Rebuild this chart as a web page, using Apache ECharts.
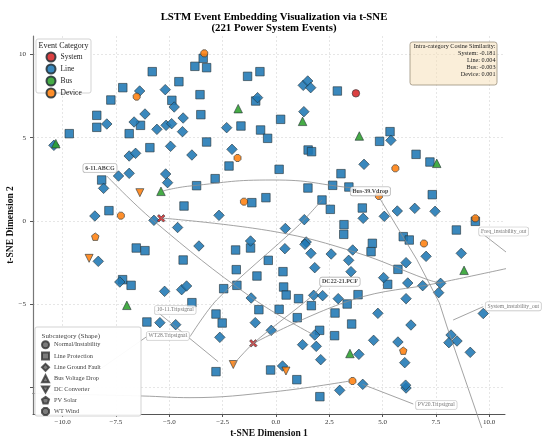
<!DOCTYPE html>
<html>
<head>
<meta charset="utf-8">
<script src="https://cdn.jsdelivr.net/npm/echarts@6.0.0/dist/echarts.min.js"></script>
<style>
  html, body { margin: 0; padding: 0; background: #fff; }
  #main { width: 550px; height: 441px; }
</style>
</head>
<body>
<div id="main"></div>
<script>
// t-SNE scatter of LSTM event embeddings
const FONT = '"Liberation Serif", "Times New Roman", serif';

// --- data ---
const xTicks = [-10, -7.5, -5, -2.5, 0, 2.5, 5, 7.5, 10];
const yTicks = [-10, -5, 0, 5, 10];
const yLabelTicks = [-5, 0, 5, 10];

const categories = ['System', 'Line', 'Bus', 'Device'];
const subcategories = ['Normal/Instability', 'Line Protection', 'Line Ground Fault',
  'Bus Voltage Drop', 'DC Converter', 'PV Solar', 'WT Wind'];

const lineProtection = [
  [-5.80, 8.96], [-4.55, 8.36], [-7.18, 8.00], [-7.74, 7.26], [-8.40, 6.34], [-8.40, 5.62],
  [-9.69, 5.24], [-6.88, 5.24], [-6.35, 5.74], [-4.88, 7.24], [-5.91, 4.40], [-8.17, 2.46],
  [-7.83, 0.62], [-4.31, 0.90], [-3.41, 9.76], [-3.80, 9.28], [-3.25, 9.20], [-1.33, 8.68],
  [-0.75, 8.96], [-3.56, 7.58], [-3.52, 6.38], [-0.95, 7.20], [-1.64, 5.70], [-0.72, 5.46],
  [-0.39, 4.96], [0.22, 6.10], [2.88, 7.80], [-3.25, 4.74], [-2.20, 3.30], [0.15, 3.10],
  [1.51, 4.26], [1.67, 4.16], [3.05, 2.84], [-2.85, 2.54], [-3.72, 2.12], [1.50, 1.98],
  [2.66, 2.14], [3.42, 2.04], [-0.47, 1.40], [-1.13, 1.10], [2.55, 0.70], [2.16, 1.26],
  [3.19, -0.22], [5.35, 5.36], [4.86, 4.78], [6.57, 4.00], [7.22, 3.54], [7.33, 1.58],
  [4.05, 0.78], [9.35, -0.02], [-6.55, -1.62], [-6.14, -1.78], [-4.35, -2.34], [-7.19, -3.52],
  [-6.79, -3.86], [-6.05, -6.06], [3.18, -0.80], [-1.89, -1.74], [-1.19, -1.62], [-0.36, -2.36],
  [-1.86, -2.92], [-0.89, -3.30], [0.33, -3.04], [-2.45, -4.06], [-1.83, -3.86], [0.36, -3.96],
  [0.48, -4.44], [1.06, -4.66], [1.66, -5.08], [-0.80, -5.32], [0.15, -5.30], [-2.81, -5.58],
  [-2.52, -6.12], [1.00, -5.80], [2.77, -5.52], [3.34, -4.98], [2.05, -6.56], [2.75, -6.88],
  [-2.81, -9.04], [-0.25, -8.94], [0.98, -9.52], [2.06, -10.54], [8.46, -0.54], [4.52, -1.34],
  [4.46, -1.84], [5.97, -0.94], [6.25, -1.14], [5.72, -2.90], [5.24, -3.80], [3.85, -4.42],
  [3.55, -6.18], [-3.94, -4.90]
];

const lineGroundFault = [
  [-6.39, 7.80], [-5.19, 7.88], [-4.77, 6.84], [-6.14, 6.42], [-7.93, 5.82], [-6.65, 5.94],
  [-5.58, 5.50], [-5.15, 5.74], [-4.89, 5.84], [-4.35, 6.18], [-4.38, 5.36], [-10.41, 4.54],
  [-4.94, 4.48], [-6.88, 3.90], [-6.58, 4.06], [-3.94, 3.96], [-7.38, 2.70], [-6.88, 2.86],
  [-5.17, 2.82], [-5.08, 2.30], [-8.08, 1.96], [-8.49, 0.30], [-5.72, 0.04], [-4.61, -0.39],
  [-0.86, 7.40], [1.28, 8.14], [1.49, 8.40], [1.63, 8.00], [1.31, 6.56], [-2.31, 5.60],
  [-2.06, 4.30], [-2.67, 0.34], [1.33, 0.08], [0.44, -0.45], [5.39, 4.84], [4.13, 3.40],
  [4.09, 0.16], [5.08, 0.28], [5.69, 0.60], [6.51, 0.76], [7.46, 0.58], [-8.33, -2.42],
  [-7.32, -3.66], [-5.22, -4.22], [-4.42, -4.12], [-4.19, -3.90], [-5.44, -6.10], [-4.70, -6.22],
  [-3.61, -1.50], [-1.19, -1.20], [0.42, -1.66], [1.42, -1.26], [1.36, -1.40], [1.64, -1.94],
  [2.59, -1.98], [3.41, -2.36], [1.82, -2.80], [-1.16, -4.62], [-0.97, -6.10], [-0.22, -6.56],
  [-2.63, -6.98], [1.77, -4.46], [2.19, -4.48], [2.92, -4.66], [1.82, -6.84], [1.25, -7.42],
  [1.89, -7.52], [2.10, -8.32], [0.31, -8.70], [2.99, -10.16], [3.60, -1.74], [3.52, -3.04],
  [7.04, -2.12], [8.69, -1.94], [6.10, -2.50], [5.05, -3.40], [6.18, -3.72], [6.88, -3.88],
  [7.72, -3.74], [7.63, -4.30], [6.10, -4.66], [4.78, -5.54], [6.33, -6.24], [4.58, -7.16],
  [5.72, -7.26], [8.21, -6.84], [8.11, -7.30], [8.49, -7.20], [9.11, -7.88], [3.89, -8.00],
  [6.04, -8.50], [4.07, -9.80], [6.10, -10.02], [6.08, -9.85], [9.72, -5.55]
];

const busVoltageDrop = [
  [-10.32, 4.64], [-5.39, 1.78], [-1.77, 6.74], [1.25, 5.98], [3.91, 5.10], [7.54, 3.46],
  [8.82, -2.96], [-6.99, -5.06], [3.47, -7.95]
];
const systemNormal = [[3.75, 7.66]];
const systemInstability = [[-5.38, 0.16], [-1.06, -7.34]];
const deviceWind = [
  [-3.36, 10.06], [-6.53, 7.46], [-7.27, 0.32], [-1.80, 3.78], [-1.50, 1.16], [5.60, 3.16],
  [4.83, 1.50], [9.35, 0.16], [6.94, -1.35], [3.59, -9.60]
];
const devicePV = [[-8.47, -0.94], [5.97, -7.78]];
const deviceDC = [[-6.38, 1.70], [-8.76, -2.24], [-2.00, -8.61], [0.47, -9.00]];

const similarity = ['System: -0.181', 'Line: 0.004', 'Bus: -0.003', 'Device: 0.001'];

// annotation labels and their connector paths
const annotNames = ['6-11.ABCG', 'Bus-39.Vdrop', 'DC22-21.PCF', '10-11.Tripsignal',
  'WT28.Tripsignal', 'PV20.Tripsignal', 'Freq_instability_out', 'System_instability_out'];
const annotPos = [[-8.25, 3.18], [4.43, 1.78], [3.00, -3.64], [-4.72, -5.34],
  [-5.07, -6.90], [7.52, -11.04], [10.68, -0.63], [11.13, -5.12]];
const annotBold = [true, true, true, false, false, false, false, false];

const connectors = [
  { smooth: 0.4, pts: [[-7.93, 2.70], [-5.74, 0.02], [-1.14, -4.60], [1.78, -6.84]] },
  { smooth: 0.5, pts: [[3.80, 1.92], [3.47, 2.00], [-0.14, 2.46], [-4.03, 2.10], [-5.30, 1.80]] },
  { smooth: 0.4, pts: [[-5.39, 0.18], [-0.05, -0.64], [3.79, -1.90], [7.07, -3.50], [7.74, -3.74]] },
  { smooth: 0, pts: [[4.83, 1.44], [6.60, -2.30], [7.66, -4.90], [8.01, -6.30], [9.65, -12.42]] },
  { smooth: 0, pts: [[-5.67, -5.34], [-2.71, -8.44]] },
  { smooth: 0, pts: [[-6.06, -6.94], [-8.41, -9.04]] },
  { smooth: 0.3, pts: [[-4.03, -6.94], [-2.78, -4.74], [1.03, -0.30], [2.16, 1.26]] },
  { smooth: 0.3, pts: [[-2.00, -8.61], [-1.06, -7.34], [1.75, -4.44], [2.20, -3.78]] },
  { smooth: 0.4, pts: [[-1.06, -7.34], [3.55, -4.74], [7.69, -3.70], [12.29, -2.44]] },
  { smooth: 0, pts: [[9.56, -0.64], [11.67, -2.74]] },
  { smooth: 0.4, pts: [[-12.5, -10.32], [-6.24, -10.50], [-4.03, -10.60], [-0.05, -10.24], [3.47, -9.60]] },
  { smooth: 0, pts: [[4.06, -9.80], [6.44, -10.98]] },
  { smooth: 0, pts: [[8.31, -5.94], [9.72, -5.14]] }
];

// --- styles ---
const COLORS = { System: '#d62728', Line: '#1f77b4', Bus: '#2ca02c', Device: '#ff7f0e' };
const PENTAGON = 'path://M0,-10L9.51,-3.09L5.88,8.09L-5.88,8.09L-9.51,-3.09Z';
const OCTAGON = 'path://M-4.14,-10L4.14,-10L10,-4.14L10,4.14L4.14,10L-4.14,10L-10,4.14L-10,-4.14Z';
const XMARK = 'path://M-10,-6L-6,-10L0,-4L6,-10L10,-6L4,0L10,6L6,10L0,4L-6,10L-10,6L-4,0Z';
const TRI_DOWN = 'path://M-10,-8.66L10,-8.66L0,8.66Z';
const shapeIcons = ['circle', 'rect', 'diamond', 'triangle', TRI_DOWN, PENTAGON, OCTAGON];

function scatter(cat, data, symbol, size) {
  return {
    type: 'scatter', name: cat, data: data, symbol: symbol, symbolSize: size,
    itemStyle: { color: COLORS[cat], opacity: 0.88, borderColor: '#263238', borderWidth: 0.7 },
    z: 2, silent: true
  };
}

const series = [
  scatter('System', systemNormal, 'circle', 7.5),
  scatter('Line', lineProtection, 'rect', 8.5),
  scatter('Line', lineGroundFault, 'diamond', 10.5),
  scatter('Bus', busVoltageDrop, 'triangle', 8.5),
  scatter('Device', deviceWind, OCTAGON, 7),
  scatter('Device', devicePV, PENTAGON, 7.5),
  scatter('Device', deviceDC, TRI_DOWN, 8),
  scatter('System', systemInstability, XMARK, 7.5)
];

// empty series so the shape legend has entries
subcategories.forEach(function (s) {
  series.push({ type: 'scatter', name: s, data: [],
    itemStyle: { color: '#5a5a5a', borderColor: '#333', borderWidth: 0.5 } });
});

connectors.forEach(function (c) {
  series.push({
    type: 'line', data: c.pts, smooth: c.smooth, symbol: 'none', clip: false, silent: true,
    lineStyle: { color: '#8c8c8c', width: 0.8 }, z: 3
  });
});

series.push({
  type: 'scatter', symbolSize: 1, clip: false, silent: true, z: 4,
  itemStyle: { color: 'rgba(0,0,0,0)' },
  data: annotNames.map(function (n, i) {
    return {
      name: n, value: annotPos[i],
      label: {
        show: true, position: 'inside', formatter: '{b}',
        fontFamily: FONT, fontSize: annotBold[i] ? 6 : 5.6,
        fontWeight: annotBold[i] ? 'bold' : 'normal',
        color: annotBold[i] ? '#111' : '#555',
        backgroundColor: '#fff', borderColor: annotBold[i] ? '#999' : '#b5b5b5',
        borderWidth: 0.6, borderRadius: 2, padding: [1.5, 2, 1, 2]
      }
    };
  })
});

const chart = echarts.init(document.getElementById('main'));
chart.setOption({
  animation: false,
  backgroundColor: '#fff',
  textStyle: { fontFamily: FONT },
  title: {
    text: 'LSTM Event Embedding Visualization via t-SNE\n(221 Power System Events)',
    left: 269, top: 6, textAlign: 'center',
    textStyle: { fontFamily: FONT, fontWeight: 'bold', fontSize: 10.8, lineHeight: 11.5, color: '#000' }
  },
  grid: { left: 33, right: 45, top: 36, bottom: 27, containLabel: false, outerBoundsMode: 'none' },
  xAxis: {
    type: 'value', min: -11.39, max: 10.74,
    name: 't-SNE Dimension 1', nameLocation: 'middle', nameGap: 15, nameMoveOverlap: false,
    nameTextStyle: { fontFamily: FONT, fontWeight: 'bold', fontSize: 9.5, color: '#111' },
    axisLine: { show: true, onZero: false, lineStyle: { color: '#555', width: 1 } },
    axisTick: { show: true, length: 3, customValues: xTicks, lineStyle: { color: '#555' } },
    axisLabel: {
      customValues: xTicks, margin: 5, fontSize: 7, color: '#333', fontFamily: FONT,
      formatter: function (v) { return (v < 0 ? '\u2212' : '') + Math.abs(v).toFixed(1); }
    },
    splitLine: { show: true, lineStyle: { color: '#dcdcdc', type: [2, 2], width: 0.7 } }
  },
  yAxis: {
    type: 'value', min: -11.58, max: 11.1,
    name: 't-SNE Dimension 2', nameLocation: 'middle', nameGap: 17, nameMoveOverlap: false,
    nameTextStyle: { fontFamily: FONT, fontWeight: 'bold', fontSize: 9.5, color: '#111' },
    axisLine: { show: true, onZero: false, lineStyle: { color: '#777', width: 1.2 } },
    axisTick: { show: true, length: 3, customValues: yTicks, lineStyle: { color: '#555' } },
    axisLabel: {
      customValues: yLabelTicks, margin: 7, fontSize: 7, color: '#333', fontFamily: FONT,
      formatter: function (v) { return (v < 0 ? '\u2212' : '') + Math.abs(v); }
    },
    splitLine: { show: true, lineStyle: { color: '#dcdcdc', type: [2, 2], width: 0.7 } }
  },
  legend: [
    {
      data: categories.map(function (c) { return { name: c, icon: 'circle' }; }),
      orient: 'vertical', left: 45.5, top: 51.5, padding: 0,
      itemWidth: 9, itemHeight: 9, itemGap: 1, itemTextGap: 8,
      selectedMode: false, z: 60,
      textStyle: { fontFamily: FONT, fontSize: 7.5, lineHeight: 9, color: '#222' }
    },
    {
      data: subcategories.map(function (s, i) { return { name: s, icon: shapeIcons[i] }; }),
      orient: 'vertical', left: 41, top: 340.2, padding: 0,
      itemWidth: 7, itemHeight: 7, itemGap: 2.33, itemTextGap: 7,
      selectedMode: false, z: 60,
      textStyle: { fontFamily: FONT, fontSize: 6.3, lineHeight: 7, color: '#444' }
    }
  ],
  graphic: [
    { type: 'rect', z: 50, shape: { x: 36, y: 39, width: 55, height: 54, r: 2 },
      style: { fill: 'rgba(255,255,255,0.92)', stroke: '#c8c8c8', lineWidth: 0.8 } },
    { type: 'text', z: 61, x: 63.5, y: 45.8,
      style: { text: 'Event Category', fontFamily: FONT, fontSize: 8, fill: '#222',
        textAlign: 'center', textVerticalAlign: 'middle' } },
    { type: 'rect', z: 50, shape: { x: 35, y: 327, width: 106, height: 89, r: 2 },
      style: { fill: 'rgba(255,255,255,0.95)', stroke: '#c8c8c8', lineWidth: 0.8 } },
    { type: 'text', z: 61, x: 41.5, y: 335.7,
      style: { text: 'Subcategory (Shape)', fontFamily: FONT, fontSize: 7, fill: '#444',
        textAlign: 'left', textVerticalAlign: 'middle' } },
    { type: 'rect', z: 50, shape: { x: 410, y: 42, width: 87, height: 43, r: 2.5 },
      style: { fill: 'rgba(245,222,179,0.5)', stroke: '#9a8f7c', lineWidth: 0.8 } },
    { type: 'text', z: 61, x: 495.5, y: 43,
      style: { text: ['Intra-category Cosine Similarity:'].concat(similarity).join('\n'),
        fontFamily: FONT, fontSize: 6.2, lineHeight: 6.9, fill: '#222',
        textAlign: 'right', textVerticalAlign: 'top' } }
  ],
  series: series
});
</script>
</body>
</html>
